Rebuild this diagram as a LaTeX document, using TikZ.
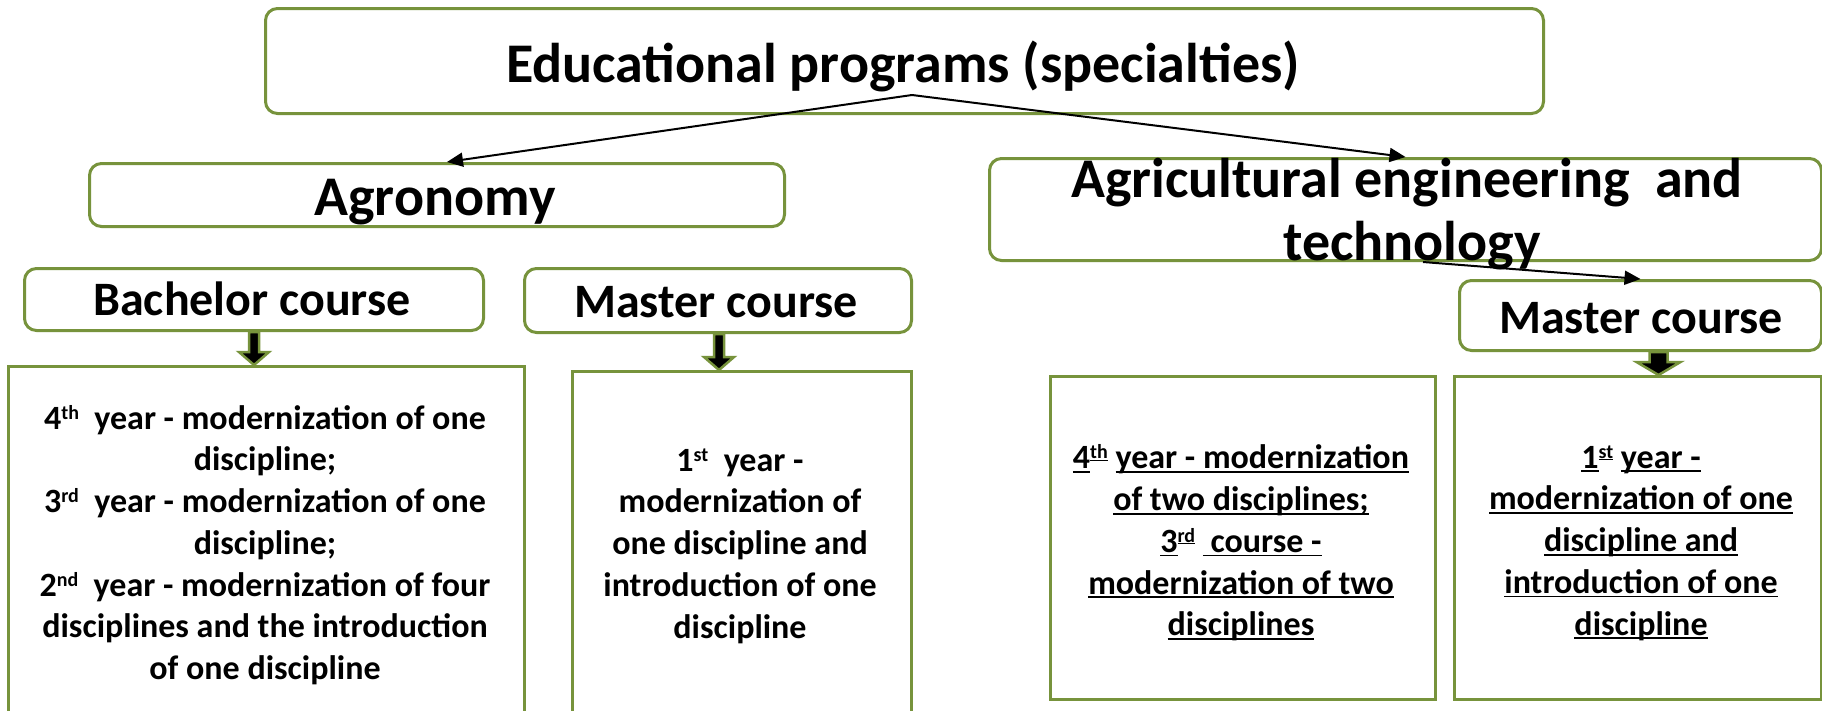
\documentclass[tikz,border=0pt]{standalone}
\usepackage{fontspec}
\setmainfont{Carlito}
\usetikzlibrary{arrows.meta,calc}
\definecolor{ogreen}{HTML}{77933C}
\newcommand\myul[1]{\setbox0\hbox{#1}\rlap{\rule[-4pt]{\wd0}{1.8pt}}\box0\relax}
\newcommand\sups[1]{\raisebox{10pt}{\fontsize{20}{20}\selectfont #1}}
\newcommand\ulsups[1]{\raisebox{10pt}{\fontsize{20}{20}\selectfont\setbox0\hbox{#1}\rlap{\rule[-2pt]{\wd0}{1.2pt}}\box0\relax}}
\newcommand\blkarrow[5]{%
  \draw[blk] let \p1=($(#1.south)+(#3,0)$), \p2=(#2.north) in
    (\x1-#4,\y1) -- (\x1+#4,\y1) -- (\x1+#4,\y2+13) -- (\x1+#5,\y2+13) --
    (\x1,\y2) -- (\x1-#5,\y2+13) -- (\x1-#4,\y2+13) -- cycle;}
\tikzset{
  rbox/.style={draw=ogreen, line width=3pt, rounded corners=12pt, inner sep=0pt, anchor=north west},
  sbox/.style={draw=ogreen, line width=3pt, inner sep=0pt, anchor=north west},
  conn/.style={line width=2pt, -{Triangle[length=16pt,width=14pt]}},
  blk/.style={fill=black, draw=ogreen, line width=2.5pt, line join=miter},
  ttl/.style={font=\fontsize{56}{63}\selectfont\bfseries, inner sep=0pt, anchor=base},
  crs/.style={font=\fontsize{48}{55}\selectfont\bfseries, inner sep=0pt, anchor=base},
  body/.style={font=\fontsize{34}{41.7}\selectfont\bfseries, inner sep=0pt, align=center, anchor=center},
}
\begin{document}
\begin{tikzpicture}[x=1pt, y=-1pt]
\clip (0,0) rectangle (1822,710);
\fill[white] (0,0) rectangle (1822,710);
% boxes
\node[rbox, minimum width=1278pt, minimum height=105pt] (top) at (264,7) {};
\node[rbox, minimum width=695pt, minimum height=63pt] (agro) at (88,162) {};
\node[rbox, minimum width=832pt, minimum height=102pt] (agri) at (988,157) {};
\node[rbox, minimum width=459pt, minimum height=62pt] (bach) at (23,267) {};
\node[rbox, minimum width=387pt, minimum height=64pt] (mastL) at (523,267) {};
\node[rbox, minimum width=362pt, minimum height=70pt] (mastR) at (1458,279) {};
\node[sbox, minimum width=516pt, minimum height=365pt] (c1) at (7,365) {};
\node[sbox, minimum width=339pt, minimum height=360pt] (c2) at (571,370) {};
\node[sbox, minimum width=385pt, minimum height=323pt] (c3) at (1049,375) {};
\node[sbox, minimum width=367pt, minimum height=323pt] (c4) at (1453,375) {};
% texts
\node[ttl] (ttitle) at (903,82) {Educational programs (specialties)};
\node[ttl] (tagro) at (435,215) {Agronomy};
\node[ttl] (tagri1) at (1407,197) {Agricultural engineering~ and};
\node[ttl] (tagri2) at (1412,260) {technology};
\node[crs] (tbach) at (252,315) {Bachelor course};
\node[crs] (tmastL) at (716,317) {Master course};
\node[crs] (tmastR) at (1641,333) {Master course};
\node[body] (t1) at (265,545) {4\sups{th}~~year - modernization of one\\ discipline;\\ 3\sups{rd}~~year - modernization of one\\ discipline;\\ 2\sups{nd}~~year - modernization of four\\ disciplines and the introduction\\ of one discipline};
\node[body] (t2) at (740,546) {1\sups{st}~~year -\\ modernization of\\ one discipline and\\ introduction of one\\ discipline};
\node[body] (t3) at (1241,543) {\myul{4}\ulsups{th} \myul{year - modernization}\\ \myul{of two disciplines;}\\ \myul{3}\ulsups{rd} \myul{\ course -}\\ \myul{modernization of two}\\ \myul{disciplines}};
\node[body] (t4) at (1641,543) {\myul{1}\ulsups{st} \myul{year -}\\ \myul{modernization of one}\\ \myul{discipline and}\\ \myul{introduction of one}\\ \myul{discipline}};
% connectors
\coordinate (src) at (912,95);
\coordinate (src2) at (1423,262);
\draw[conn] (src) -- ($(agro.north)+(10,0)$);
\draw[conn] (src) -- (agri.north);
\draw[conn] (src2) -- (mastR.north);
% block arrows
\blkarrow{bach}{c1}{0}{5}{15}
\blkarrow{mastL}{c2}{1}{5}{15}
\blkarrow{mastR}{c4}{18}{9}{22}
\end{tikzpicture}
\end{document}
